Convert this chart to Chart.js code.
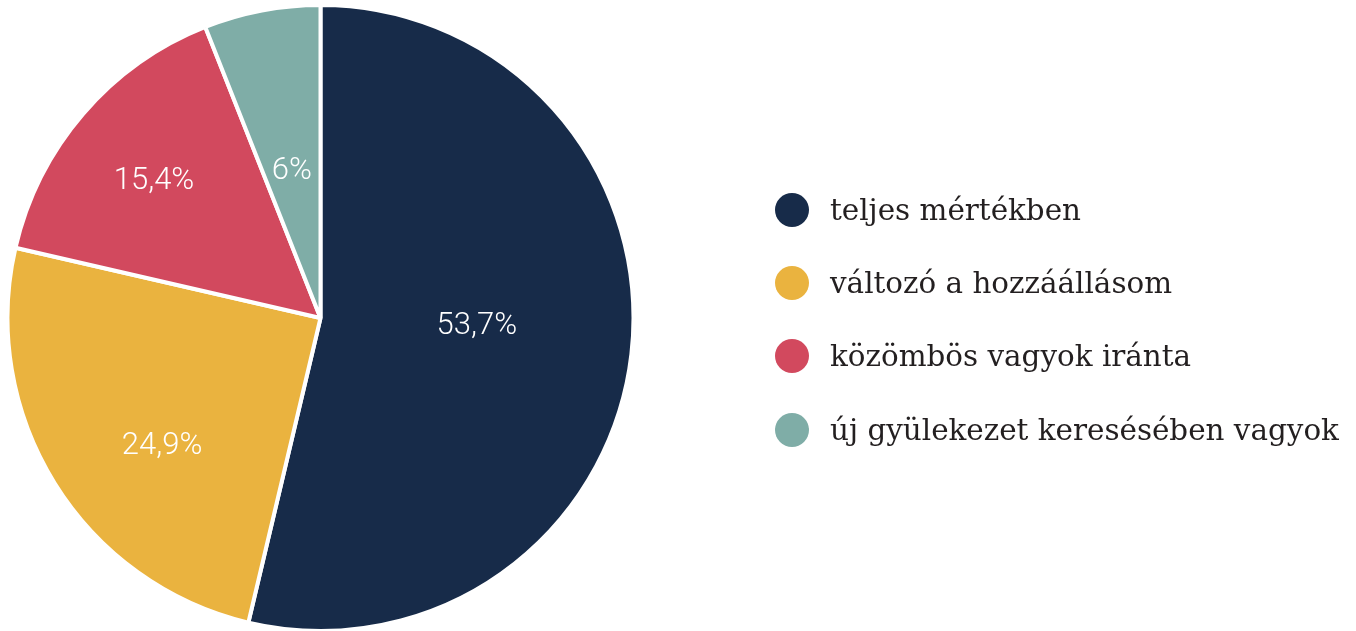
<!DOCTYPE html>
<html>
<head>
<meta charset="utf-8">
<script src="https://cdn.jsdelivr.net/npm/chart.js@4/dist/chart.umd.min.js"></script>
<style>
  html, body { margin: 0; padding: 0; background: #fff; overflow: hidden; }
  #wrap { position: relative; width: 1356px; height: 631px; overflow: hidden; }
  #pie { position: absolute; left: 0; top: 0; }
  #legend { position: absolute; left: 775px; top: 173px; list-style: none; margin: 0; padding: 0;
            font-family: "DejaVu Serif", serif; font-size: 29.4px; color: #231f20; }
  #legend li { display: flex; align-items: center; height: 73.3px; white-space: nowrap; }
  #legend .dot { width: 34px; height: 34px; border-radius: 50%; margin-right: 21px; flex: none; }
</style>
</head>
<body>
<div id="wrap">
  <canvas id="pie" width="1356" height="640"></canvas>
  <ul id="legend"></ul>
</div>
<script>
/* ========= DATA ========= */
const labels = [
  "teljes mértékben",
  "változó a hozzáállásom",
  "közömbös vagyok iránta",
  "új gyülekezet keresésében vagyok"
];
const values = [53.7, 24.9, 15.4, 6];
const valueText = ["53,7%", "24,9%", "15,4%", "6%"];
const colors = ["#172b49", "#eab33f", "#d2495e", "#7fada7"];

// where each slice label sits: fraction of radius, and a small angle nudge (deg)
const labelRadius = [0.50, 0.65, 0.69, 0.48];
const labelNudge = [-4.0, -7.0, -1.1, -0.2];

/* ========= SLICE LABELS ========= */
const sliceLabels = {
  id: "sliceLabels",
  afterDatasetsDraw(chart) {
    const ctx = chart.ctx;
    const arcs = chart.getDatasetMeta(0).data;
    ctx.save();
    ctx.fillStyle = "#fff";
    ctx.font = "300 31px Roboto";
    ctx.textAlign = "center";
    ctx.textBaseline = "middle";
    arcs.forEach((arc, i) => {
      const p = arc.getProps(["x", "y", "startAngle", "endAngle", "outerRadius"], true);
      const mid = (p.startAngle + p.endAngle) / 2 + labelNudge[i] * Math.PI / 180;
      const r = p.outerRadius * labelRadius[i];
      ctx.fillText(valueText[i], p.x + Math.cos(mid) * r, p.y + Math.sin(mid) * r + 1);
    });
    ctx.restore();
  }
};

/* ========= PIE ========= */
new Chart(document.getElementById("pie"), {
  type: "pie",
  data: {
    labels,
    datasets: [{
      data: values,
      backgroundColor: colors,
      borderColor: "#fff",
      borderWidth: 4
    }]
  },
  options: {
    responsive: false,
    animation: false,
    layout: { padding: { left: 5, top: 3, right: 720, bottom: 7 } },
    plugins: {
      legend: { display: false },
      tooltip: { enabled: false }
    }
  },
  plugins: [sliceLabels]
});

/* ========= LEGEND ========= */
const ul = document.getElementById("legend");
labels.forEach((txt, i) => {
  const li = document.createElement("li");
  const dot = document.createElement("span");
  dot.className = "dot";
  dot.style.background = colors[i];
  li.appendChild(dot);
  li.appendChild(document.createTextNode(txt));
  ul.appendChild(li);
});
</script>
</body>
</html>
